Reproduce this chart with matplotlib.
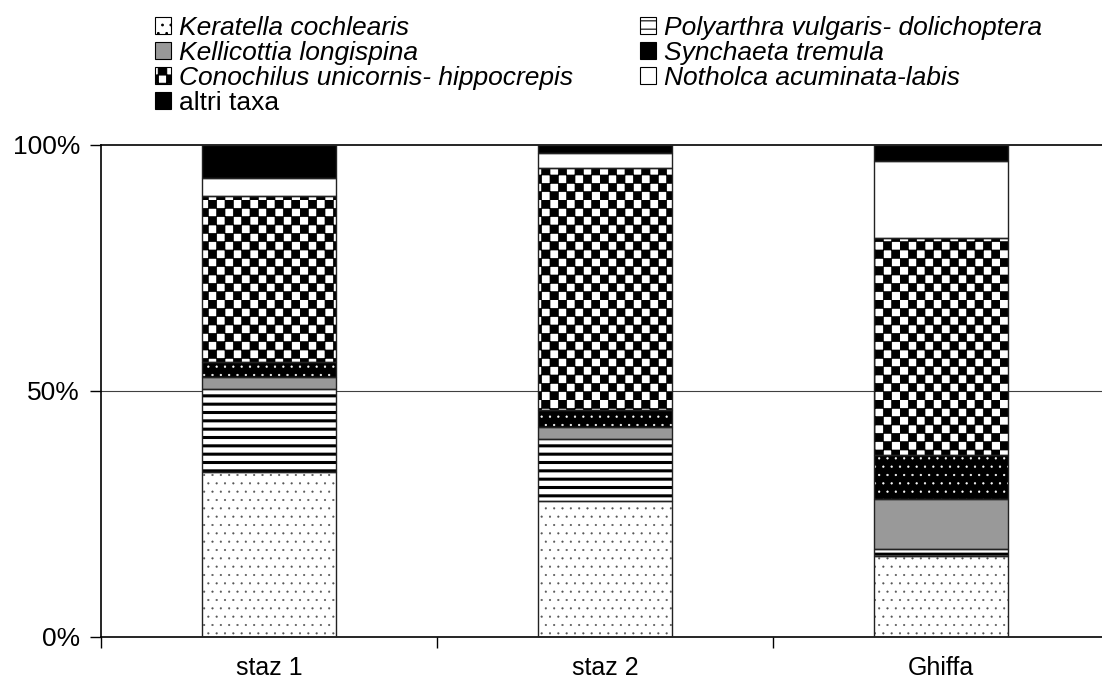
""" Stacked percentage bars of rotifer taxa"""

import warnings
import numpy as np
import matplotlib
matplotlib.use('Agg')
from matplotlib import pyplot as plt
from matplotlib import hatch as mhatch
from matplotlib.path import Path
from matplotlib.patches import Patch

warnings.filterwarnings('ignore')

stations = ['staz 1', 'staz 2', 'Ghiffa']
taxa = ['Keratella cochlearis', 'Polyarthra vulgaris- dolichoptera',
        'Kellicottia longispina', 'Synchaeta tremula',
        'Conochilus unicornis- hippocrepis', 'Notholca acuminata-labis',
        'altri taxa']
# percentages, one list per taxon (staz 1, staz 2, Ghiffa)
keratella = [33.5, 27.5, 16.4]
polyarthra = [16.9, 12.6, 1.5]
kellicottia = [2.3, 2.5, 10.0]
synchaeta = [3.2, 3.4, 9.0]
conochilus = [33.7, 49.3, 44.1]
notholca = [3.7, 3.0, 15.7]
altri = [6.7, 1.7, 3.3]
values = [keratella, polyarthra, kellicottia, synchaeta, conochilus, notholca, altri]
y_ticks = [0, 50, 100]
y_ticklabels = ['0%', '50%', '100%']


class CheckerHatch(mhatch.HatchPatternBase):
    """ checkerboard hatch, char 'c' """
    def __init__(self, hatch, density):
        self.n = 2 * hatch.count('c') * density
        self.num_vertices = 5 * (self.n * self.n // 2) if self.n else 0

    def set_vertices_and_codes(self, vertices, codes):
        s = 1.0 / self.n
        k = 0
        for i in range(self.n):
            for j in range(self.n):
                if (i + j) % 2:
                    continue
                x0, y0 = i * s, j * s
                vertices[k:k + 5] = [(x0, y0), (x0 + s, y0), (x0 + s, y0 + s),
                                     (x0, y0 + s), (x0, y0)]
                codes[k:k + 5] = [Path.MOVETO, Path.LINETO, Path.LINETO,
                                  Path.LINETO, Path.CLOSEPOLY]
                k += 5


mhatch._hatch_types.append(CheckerHatch)

# face colour, hatch, hatch colour, hatch linewidth
styles = [
    ('white', '..', '#555555', 0.3),
    ('white', '--', 'black', 2.2),
    ('#999999', None, 'black', 1.0),
    ('black', '..', 'white', 0.4),
    ('white', 'c', 'black', 0.5),
    ('white', None, 'black', 1.0),
    ('black', None, 'black', 1.0),
]

plt.rcParams['font.family'] = ['Liberation Sans', 'DejaVu Sans']

fig = plt.figure(figsize=(11.02, 6.86), dpi=100)
ax = fig.add_axes([101 / 1102, 49.5 / 686, 1008 / 1102, 491.5 / 686])

x = np.arange(len(stations))
width = 0.4
bottom = np.zeros(len(stations))
for vals, (fc, hat, hc, hlw) in zip(values, styles):
    plt.rcParams['hatch.linewidth'] = hlw
    bars = ax.bar(x, vals, width, bottom=bottom, color=fc, edgecolor=hc,
                  hatch=hat, linewidth=0, zorder=2)
    for b in bars:
        if hasattr(b, 'set_hatch_linewidth'):
            b.set_hatch_linewidth(hlw)
    ax.bar(x, vals, width, bottom=bottom, fill=False, edgecolor='#222222',
           linewidth=1.0, zorder=3)
    bottom += np.array(vals)

ax.set_xlim(-0.5, 2.5)
ax.set_ylim(0, 100)
ax.set_yticks(y_ticks)
ax.set_yticklabels(y_ticklabels)
ax.set_xticks([-0.5, 0.5, 1.5, 2.5])
ax.set_xticklabels([])
ax.set_xticks(x, minor=True)
ax.set_xticklabels(stations, minor=True)
ax.tick_params(axis='x', which='minor', length=0, pad=14, labelsize=18)
ax.tick_params(axis='x', which='major', length=8, width=1, direction='out')
ax.tick_params(axis='y', length=8, width=1, direction='out', pad=7, labelsize=19)
for s in ['top', 'right']:
    ax.spines[s].set_visible(False)
ax.spines['left'].set_linewidth(1.2)
ax.spines['bottom'].set_linewidth(1.2)
ax.axhline(50, color='#404040', lw=0.8, zorder=1)
ax.axhline(100, color='black', lw=1.2, zorder=1, clip_on=False)

# Legend, two blocks
handles = []
for (fc, hat, hc, hlw) in styles:
    plt.rcParams['hatch.linewidth'] = min(hlw, 0.8)
    handles.append(Patch(facecolor=fc, edgecolor='black', hatch=hat, linewidth=0.8))
cols = [([0, 2, 4, 6], 155), ([1, 3, 5], 640)]
for idx, xpos in cols:
    leg = fig.legend([handles[i] for i in idx], [taxa[i] for i in idx],
                     loc='upper left', bbox_to_anchor=(xpos / 1102, 1 - 16 / 686),
                     frameon=False, fontsize=19, borderpad=0, borderaxespad=0,
                     handlelength=0.62, handleheight=0.62, handletextpad=0.3,
                     labelspacing=0.04)
    for t in leg.get_texts():
        if t.get_text() != 'altri taxa':
            t.set_style('italic')

fig.savefig('out.png', dpi=100)
